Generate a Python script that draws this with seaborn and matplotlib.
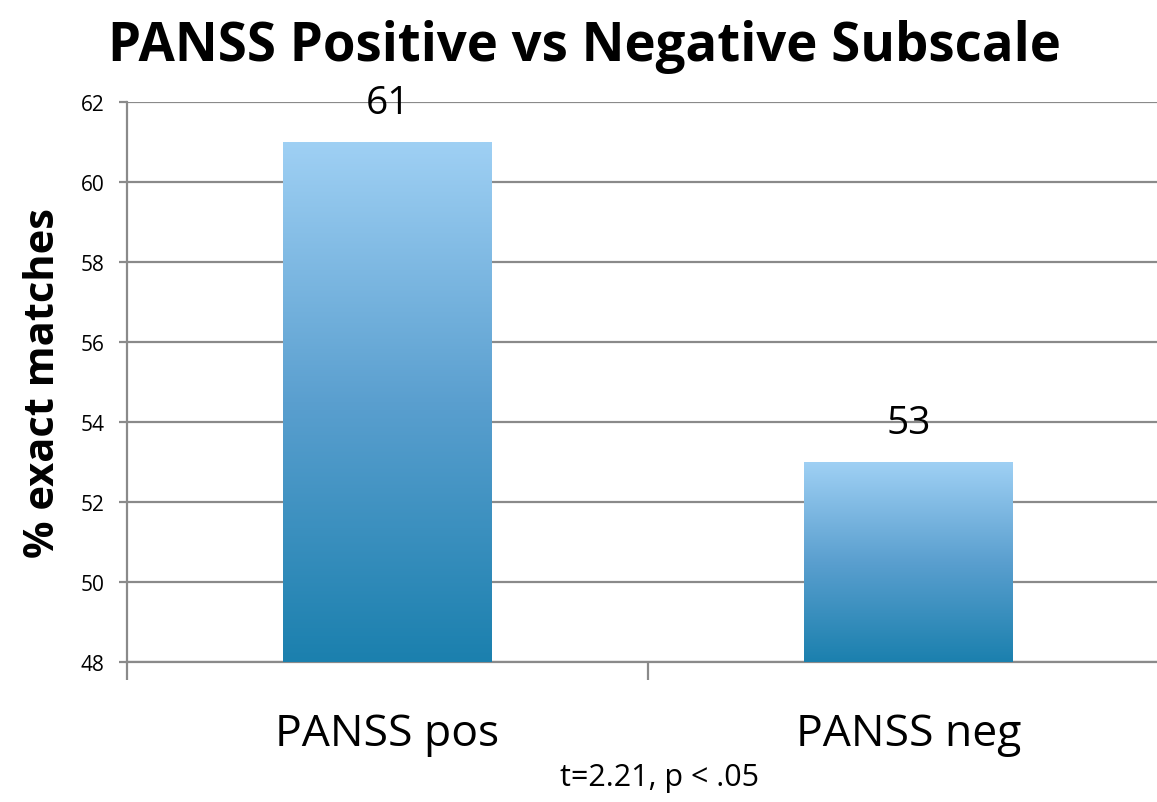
import numpy as np
import pandas as pd
import matplotlib
matplotlib.use("Agg")
import matplotlib.pyplot as plt
import seaborn as sns
from matplotlib.colors import LinearSegmentedColormap

categories = ["PANSS pos", "PANSS neg"]
values = [61, 53]
y_ticks = [48, 50, 52, 54, 56, 58, 60, 62]
title = "PANSS Positive vs Negative Subscale"
y_label = "% exact matches"
note = "t=2.21, p < .05"

sns.set_theme(style="white")
plt.rcParams["font.family"] = ["Open Sans", "DejaVu Sans"]
plt.rcParams["text.color"] = "black"
plt.rcParams["axes.labelcolor"] = "black"

W, H = 1157, 803
fig = plt.figure(figsize=(W / 100, H / 100), dpi=100)
left_px, right_px, top_px, bot_px = 127, 1169, 103, 663
ax = fig.add_axes([left_px / W, 1 - bot_px / H, (right_px - left_px) / W, (bot_px - top_px) / H])

df = pd.DataFrame({"cat": categories, "val": values})
sns.barplot(data=df, x="cat", y="val", ax=ax, width=0.40, color="#5aa6d6", zorder=3)

ax.set_ylim(48, 62)
ax.set_xlim(-0.5, 1.5)
ax.set_yticks(y_ticks)
ax.yaxis.grid(True, color="#8a8a8a", linewidth=1.6, zorder=0)
ax.set_axisbelow(True)

# gradient fill for bars
cmap = LinearSegmentedColormap.from_list("g", ["#1b80ae", "#5a9fcf", "#9fd0f4"])
grad = np.linspace(0, 1, 256).reshape(-1, 1)
for p in ax.patches:
    x0, y0 = p.get_x(), p.get_y()
    w, h = p.get_width(), p.get_height()
    p.set_facecolor("none")
    p.set_edgecolor("none")
    ax.imshow(grad, extent=[x0, x0 + w, 48, y0 + h], origin="lower",
              cmap=cmap, aspect="auto", zorder=3)
    ax.text(x0 + w / 2, y0 + h + 0.5, f"{int(h)}", ha="center", va="bottom",
            fontsize=28, color="black", zorder=5)
ax.set_xlim(-0.5, 1.5)
ax.set_ylim(48, 62)

for s in ["top", "right"]:
    ax.spines[s].set_visible(False)
for s in ["left", "bottom"]:
    ax.spines[s].set_color("#8a8a8a")
    ax.spines[s].set_linewidth(1.6)

ax.tick_params(axis="y", which="major", left=True, length=6, width=1.6, color="#8a8a8a",
               labelsize=15, pad=10, labelcolor="black")
ax.set_xticks([0, 1])
ax.set_xticklabels(categories)
ax.tick_params(axis="x", which="major", bottom=False, labelsize=32, pad=30, labelcolor="black")
ax.set_xticks([-0.5, 0.5, 1.5], minor=True)
ax.tick_params(axis="x", which="minor", bottom=True, length=13, width=1.6, color="#8a8a8a")

ax.set_xlabel("")
ax.set_ylabel(y_label, fontsize=30, fontweight="bold", labelpad=12, color="black")

fig.text(0.505, 0.975, title, ha="center", va="top", fontsize=38, fontweight="bold", color="black")
fig.text(660 / W, 1 - 778 / H, note, ha="center", va="center", fontsize=22, color="black")

fig.savefig("out.png", dpi=100)
